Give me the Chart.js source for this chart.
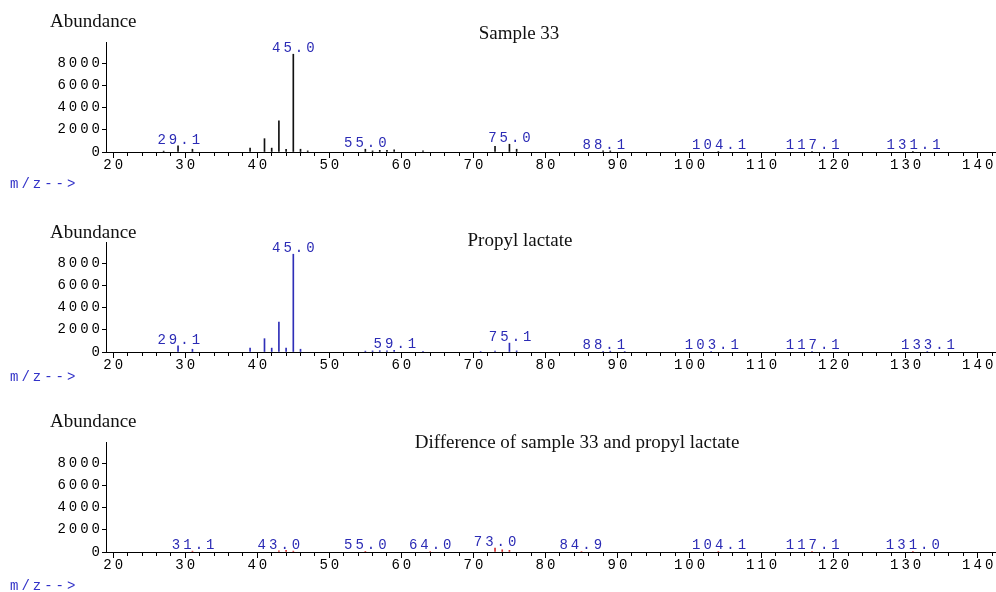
<!DOCTYPE html>
<html>
<head>
<meta charset="utf-8">
<script src="https://cdn.jsdelivr.net/npm/chart.js@4.4.0/dist/chart.umd.min.js"></script>
<style>
  html, body { margin: 0; padding: 0; background: #fff; }
  body { width: 996px; height: 592px; position: relative; overflow: hidden; }
  canvas { position: absolute; left: 0; }
  .abund { position: absolute; left: 50px; font: 19px "Liberation Serif", serif; color: #111; }
  .title { position: absolute; font: 19px "Liberation Serif", serif; color: #111; transform: translateX(-50%); white-space: nowrap; }
  .mz { position: absolute; left: 10px; font: 14px "Liberation Mono", monospace; letter-spacing: 3px; color: #3232c8; }
</style>
</head>
<body>
<canvas id="c1" width="996" height="200" style="top:0"></canvas>
<canvas id="c2" width="996" height="200" style="top:200px"></canvas>
<canvas id="c3" width="996" height="200" style="top:400px"></canvas>

<div class="abund" style="top:10px">Abundance</div>
<div class="title" style="left:519px; top:22px">Sample 33</div>
<div class="mz" style="top:176px">m/z--&gt;</div>

<div class="abund" style="top:221px">Abundance</div>
<div class="title" style="left:520px; top:229px">Propyl lactate</div>
<div class="mz" style="top:369px">m/z--&gt;</div>

<div class="abund" style="top:410px">Abundance</div>
<div class="title" style="left:577px; top:431px">Difference of sample 33 and propyl lactate</div>
<div class="mz" style="top:578px">m/z--&gt;</div>

<script>
// sample 33
const sampleMz = [27, 29, 31, 39, 41, 42, 43, 44, 45, 46, 47, 55, 56, 57, 58, 59, 63, 73, 75, 76, 88, 89, 104, 117, 131];
const sampleAb = [80, 550, 250, 350, 1200, 350, 2800, 250, 8800, 250, 100, 250, 100, 150, 150, 200, 100, 500, 700, 250, 100, 100, 50, 50, 50];
const sampleLabels = ['29.1', '45.0', '55.0', '75.0', '88.1', '104.1', '117.1', '131.1'];

// propyl lactate (library)
const libMz = [29, 31, 39, 41, 42, 43, 44, 45, 46, 55, 56, 57, 58, 59, 63, 71, 73, 75, 76, 88, 89, 91, 103, 117, 133];
const libAb = [550, 250, 350, 1200, 350, 2700, 350, 8800, 250, 80, 100, 120, 100, 150, 60, 50, 80, 800, 100, 60, 80, 40, 40, 40, 40];
const libLabels = ['29.1', '45.0', '59.1', '75.1', '88.1', '103.1', '117.1', '133.1'];

// difference
const diffMz = [31, 43, 44, 45, 55, 64, 73, 74, 75, 85, 104, 117, 131];
const diffAb = [80, 100, 150, 80, 60, 50, 350, 200, 150, 50, 40, 40, 40];
const diffLabels = ['31.1', '43.0', '55.0', '64.0', '73.0', '84.9', '104.1', '117.1', '131.0'];

const yTicks = [0, 2000, 4000, 6000, 8000];

const tickFont = { family: '"Liberation Mono", monospace', size: 14 };
const gap = 3;

// wide monospace look of the original
const spacing = {
  id: 'spacing',
  beforeDraw: (chart) => { chart.ctx.letterSpacing = gap + 'px'; }
};

// longer ticks at every 10 m/z
const majorTicks = {
  id: 'majorTicks',
  afterDraw: (chart) => {
    const { ctx, scales: { x } } = chart;
    ctx.save();
    ctx.strokeStyle = '#000';
    ctx.lineWidth = 1;
    ctx.beginPath();
    x.ticks.forEach((t) => {
      if (t.value % 10 === 0) {
        const px = Math.round(x.getPixelForValue(t.value) + 0.5) - 0.5;
        ctx.moveTo(px, x.top);
        ctx.lineTo(px, x.top + 6);
      }
    });
    ctx.stroke();
    ctx.restore();
  }
};

// m/z labels above the peaks
const peakLabels = (mz, ab, labels) => ({
  id: 'peakLabels',
  afterDatasetsDraw: (chart) => {
    const { ctx, scales: { x, y } } = chart;
    ctx.save();
    ctx.font = '14px "Liberation Mono", monospace';
    ctx.letterSpacing = gap + 'px';
    ctx.fillStyle = '#2b2bb5';
    ctx.textAlign = 'center';
    ctx.textBaseline = 'alphabetic';
    labels.forEach((txt) => {
      const m = parseFloat(txt);
      const i = mz.findIndex((v) => Math.abs(v - m) < 0.6);
      const top = y.getPixelForValue(i >= 0 ? ab[i] : 0);
      ctx.fillText(txt, x.getPixelForValue(m) + gap / 2, Math.min(top, y.bottom - 1) - 2);
    });
    ctx.restore();
  }
});

const makeChart = (id, mz, ab, color, labels) => new Chart(document.getElementById(id), {
  type: 'bar',
  data: {
    datasets: [{
      data: mz.map((m, i) => ({ x: m, y: ab[i] })),
      backgroundColor: color,
      barThickness: 1,
      borderWidth: 0,
    }],
  },
  options: {
    responsive: false,
    animation: false,
    events: [],
    layout: { padding: { top: 42, right: 1, left: 0, bottom: 0 } },
    plugins: {
      legend: { display: false },
      tooltip: { enabled: false },
    },
    scales: {
      x: {
        type: 'linear',
        min: 19,
        max: 142.4,
        offset: false,
        afterFit: (s) => { s.height = 48; },
        border: { color: '#000', width: 1 },
        grid: { offset: false, drawOnChartArea: false, tickLength: 4, tickColor: '#000' },
        ticks: {
          stepSize: 2,
          includeBounds: false,
          autoSkip: false,
          maxRotation: 0,
          padding: 1,
          labelOffset: gap / 2,
          color: '#000',
          font: tickFont,
          callback: (v) => (v % 10 === 0 ? String(v) : ''),
        },
      },
      y: {
        min: 0,
        max: 9900,
        afterFit: (s) => { s.width = 106; },
        afterBuildTicks: (s) => { s.ticks = yTicks.map((v) => ({ value: v })); },
        border: { color: '#000', width: 1 },
        grid: { drawOnChartArea: false, tickLength: 4, tickColor: '#000' },
        ticks: {
          padding: -1,
          color: '#000',
          font: tickFont,
          callback: (v) => String(v),
        },
      },
    },
  },
  plugins: [spacing, majorTicks, peakLabels(mz, ab, labels)],
});

makeChart('c1', sampleMz, sampleAb, '#111111', sampleLabels);
makeChart('c2', libMz, libAb, '#2f2fb8', libLabels);
makeChart('c3', diffMz, diffAb, '#d03030', diffLabels);
</script>
</body>
</html>
